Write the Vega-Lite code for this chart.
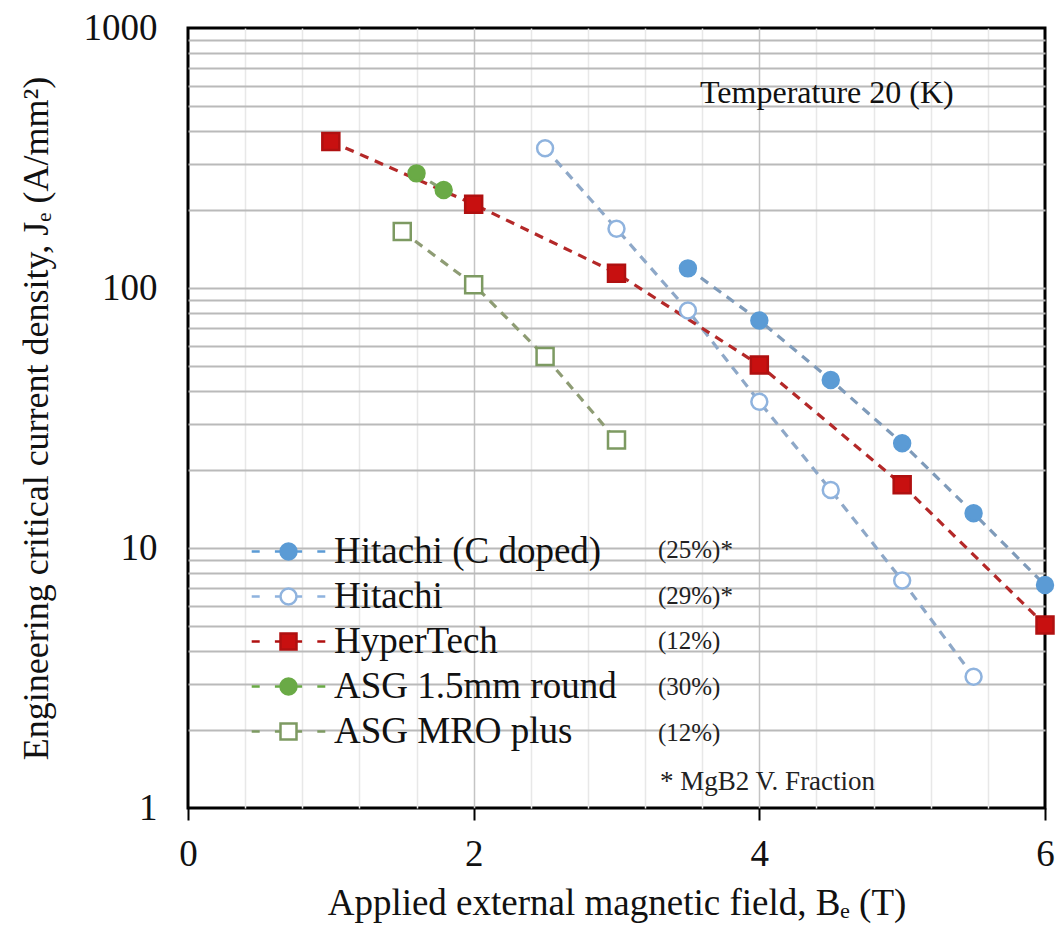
{
  "$schema": "https://vega.github.io/schema/vega-lite/v6.json",
  "autosize": {"type": "none"},
  "width": 857,
  "height": 780,
  "padding": {"left": 188, "top": 28, "right": 17, "bottom": 124},
  "background": "white",
  "config": {
    "view": {"stroke": "#000000", "strokeWidth": 3},
    "font": "Liberation Serif",
    "legend": {"labelFont": "Liberation Serif", "titleFont": "Liberation Serif"},
    "axis": {"labelFont": "Liberation Serif", "titleFont": "Liberation Serif"}
  },
  "data": {
    "values": [
      {"series": "Hitachi (C doped)", "B": 3.5, "Je": 119},
      {"series": "Hitachi (C doped)", "B": 4.0, "Je": 75},
      {"series": "Hitachi (C doped)", "B": 4.5, "Je": 44.3},
      {"series": "Hitachi (C doped)", "B": 5.0, "Je": 25.3},
      {"series": "Hitachi (C doped)", "B": 5.5, "Je": 13.6},
      {"series": "Hitachi (C doped)", "B": 6.0, "Je": 7.2},
      {"series": "Hitachi", "B": 2.5, "Je": 345},
      {"series": "Hitachi", "B": 3.0, "Je": 169},
      {"series": "Hitachi", "B": 3.5, "Je": 82},
      {"series": "Hitachi", "B": 4.0, "Je": 36.5},
      {"series": "Hitachi", "B": 4.5, "Je": 16.7},
      {"series": "Hitachi", "B": 5.0, "Je": 7.5},
      {"series": "Hitachi", "B": 5.5, "Je": 3.2},
      {"series": "HyperTech", "B": 1.0, "Je": 366},
      {"series": "HyperTech", "B": 2.0, "Je": 210},
      {"series": "HyperTech", "B": 3.0, "Je": 114},
      {"series": "HyperTech", "B": 4.0, "Je": 50.6},
      {"series": "HyperTech", "B": 5.0, "Je": 17.5},
      {"series": "HyperTech", "B": 6.0, "Je": 5.06},
      {"series": "ASG 1.5mm round", "B": 1.6, "Je": 276},
      {"series": "ASG 1.5mm round", "B": 1.79, "Je": 238},
      {"series": "ASG MRO plus", "B": 1.5, "Je": 165},
      {"series": "ASG MRO plus", "B": 2.0, "Je": 103},
      {"series": "ASG MRO plus", "B": 2.5, "Je": 54.5},
      {"series": "ASG MRO plus", "B": 3.0, "Je": 26}
    ]
  },
  "layer": [
    {
      "mark": {"type": "line", "strokeWidth": 3.2, "strokeDash": [9, 7]},
      "encoding": {
        "x": {
          "field": "B", "type": "quantitative",
          "scale": {"domain": [0, 6], "nice": false, "zero": false},
          "axis": {
            "values": [0, 0.4, 0.8, 1.2, 1.6, 2, 2.4, 2.8, 3.2, 3.6, 4, 4.4, 4.8, 5.2, 5.6, 6],
            "labelExpr": "datum.value % 2 === 0 ? format(datum.value, 'd') : ''",
            "domain": false,
            "tickSize": 12,
            "tickWidth": 2,
            "tickColor": "#000000",
            "tickOpacity": {"condition": {"test": "datum.value % 2 === 0", "value": 1}, "value": 0},
            "grid": true,
            "gridColor": {"condition": {"test": "datum.value % 2 === 0", "value": "#c4c4c4"}, "value": "#e8e8e8"},
            "gridWidth": 1.5,
            "gridOpacity": {"condition": {"test": "datum.value === 0 || datum.value === 6", "value": 0}, "value": 1},
            "labelFont": "Liberation Serif",
            "labelFontSize": 37,
            "labelColor": "#111111",
            "labelPadding": 16,
            "labelFlush": false,
            "title": "Applied external magnetic field, Bₑ (T)",
            "titleFont": "Liberation Serif",
            "titleFontSize": 37,
            "titleFontWeight": "normal",
            "titleColor": "#111111",
            "titlePadding": 13
          }
        },
        "y": {
          "field": "Je", "type": "quantitative",
          "scale": {"type": "log", "domain": [1, 1000], "nice": false},
          "axis": {
            "values": [1, 2, 3, 4, 5, 6, 7, 8, 9, 10, 20, 30, 40, 50, 60, 70, 80, 90, 100, 200, 300, 400, 500, 600, 700, 800, 900, 1000],
            "labelExpr": "(datum.value === 1 || datum.value === 10 || datum.value === 100 || datum.value === 1000) ? format(datum.value, 'd') : ''",
            "domain": false,
            "ticks": false,
            "grid": true,
            "gridColor": "#bababa",
            "gridWidth": 2,
            "gridOpacity": {"condition": {"test": "datum.value === 1 || datum.value === 1000", "value": 0}, "value": 1},
            "labelFont": "Liberation Serif",
            "labelFontSize": 37,
            "labelColor": "#111111",
            "labelPadding": 31,
            "labelFlush": false,
            "title": "Engineering critical current density, Jₑ (A/mm²)",
            "titleFont": "Liberation Serif",
            "titleFontSize": 36,
            "titleFontWeight": "normal",
            "titleColor": "#111111",
            "titlePadding": 28
          }
        },
        "color": {
          "field": "series", "type": "nominal",
          "scale": {
            "range": ["#8aa274", "#8e9c74", "#8ea8c8", "#7f9bba", "#b42828"]
          },
          "legend": null
        }
      }
    },
    {
      "transform": [{"filter": {"field": "series", "oneOf": ["Hitachi (C doped)", "Hitachi", "ASG 1.5mm round"]}}],
      "mark": {"type": "point", "shape": "circle", "size": 254, "strokeWidth": 2.5, "opacity": 1, "filled": true},
      "encoding": {
        "x": {"field": "B", "type": "quantitative"},
        "y": {"field": "Je", "type": "quantitative"},
        "fill": {
          "field": "series", "type": "nominal",
          "scale": {
            "domain": ["Hitachi (C doped)", "Hitachi", "HyperTech", "ASG 1.5mm round", "ASG MRO plus"],
            "range": ["#5b9bd5", "#ffffff", "#c81010", "#6aaa46", "#ffffff"]
          }
        },
        "stroke": {
          "field": "series", "type": "nominal",
          "scale": {
            "domain": ["Hitachi (C doped)", "Hitachi", "HyperTech", "ASG 1.5mm round", "ASG MRO plus"],
            "range": ["#5b9bd5", "#8fb3de", "#b01010", "#6aaa46", "#7d9a62"]
          }
        }
      }
    },
    {
      "transform": [{"filter": {"field": "series", "oneOf": ["HyperTech", "ASG MRO plus"]}}],
      "mark": {"type": "point", "shape": "square", "size": 289, "strokeWidth": 2.5, "opacity": 1, "filled": true},
      "encoding": {
        "x": {"field": "B", "type": "quantitative"},
        "y": {"field": "Je", "type": "quantitative"},
        "fill": {"field": "series", "type": "nominal"},
        "stroke": {"field": "series", "type": "nominal"}
      }
    },
    {
      "transform": [{"filter": "datum.B > 100"}],
      "mark": {"type": "point", "size": 256, "strokeWidth": 2.5, "opacity": 1, "filled": true},
      "encoding": {
        "x": {"field": "B", "type": "quantitative"},
        "y": {"field": "Je", "type": "quantitative"},
        "shape": {
          "field": "series", "type": "nominal",
          "scale": {
            "domain": ["Hitachi (C doped)", "Hitachi", "HyperTech", "ASG 1.5mm round", "ASG MRO plus"],
            "range": [
              "M-4.6,0H-3.6M-1.7,0H-1M1,0H1.7M3.6,0H4.6M1,0A1,1 0 1,0 -1,0A1,1 0 1,0 1,0Z",
              "M-4.6,0H-3.6M-1.7,0H-1M1,0H1.7M3.6,0H4.6M1,0A1,1 0 1,0 -1,0A1,1 0 1,0 1,0Z",
              "M-4.6,0H-3.6M-1.7,0H-1M1,0H1.7M3.6,0H4.6M-1,-1H1V1H-1Z",
              "M-4.6,0H-3.6M-1.7,0H-1M1,0H1.7M3.6,0H4.6M1,0A1,1 0 1,0 -1,0A1,1 0 1,0 1,0Z",
              "M-4.6,0H-3.6M-1.7,0H-1M1,0H1.7M3.6,0H4.6M-1,-1H1V1H-1Z"
            ]
          },
          "legend": {
            "title": null,
            "orient": "none",
            "legendX": 82,
            "legendY": 505,
            "padding": 0,
            "symbolSize": 256,
            "symbolStrokeWidth": 2.5,
            "symbolOpacity": 1,
            "labelFont": "Liberation Serif",
            "labelFontSize": 37,
            "labelColor": "#111111",
            "labelOffset": 27,
            "labelLimit": 500,
            "rowPadding": 7
          }
        },
        "fill": {"field": "series", "type": "nominal"},
        "stroke": {"field": "series", "type": "nominal"}
      }
    },
    {
      "data": {"values": [{"t": "Temperature  20 (K)"}]},
      "mark": {"type": "text", "align": "left", "baseline": "middle", "font": "Liberation Serif", "fontSize": 32, "color": "#111111"},
      "encoding": {
        "x": {"datum": 3.585},
        "y": {"datum": 562},
        "text": {"field": "t"}
      }
    },
    {
      "data": {"values": [{"t": "(25%)*\n(29%)*\n(12%)\n(30%)\n(12%)"}]},
      "mark": {"type": "text", "align": "left", "baseline": "top", "font": "Liberation Serif", "fontSize": 25, "color": "#222222", "lineBreak": "\n", "lineHeight": 45.75},
      "encoding": {
        "x": {"datum": 3.29},
        "y": {"datum": 10.95},
        "text": {"field": "t"}
      }
    },
    {
      "data": {"values": [{"t": "* MgB2 V. Fraction"}]},
      "mark": {"type": "text", "align": "left", "baseline": "middle", "font": "Liberation Serif", "fontSize": 27, "color": "#222222"},
      "encoding": {
        "x": {"datum": 3.305},
        "y": {"datum": 1.26},
        "text": {"field": "t"}
      }
    }
  ]
}
